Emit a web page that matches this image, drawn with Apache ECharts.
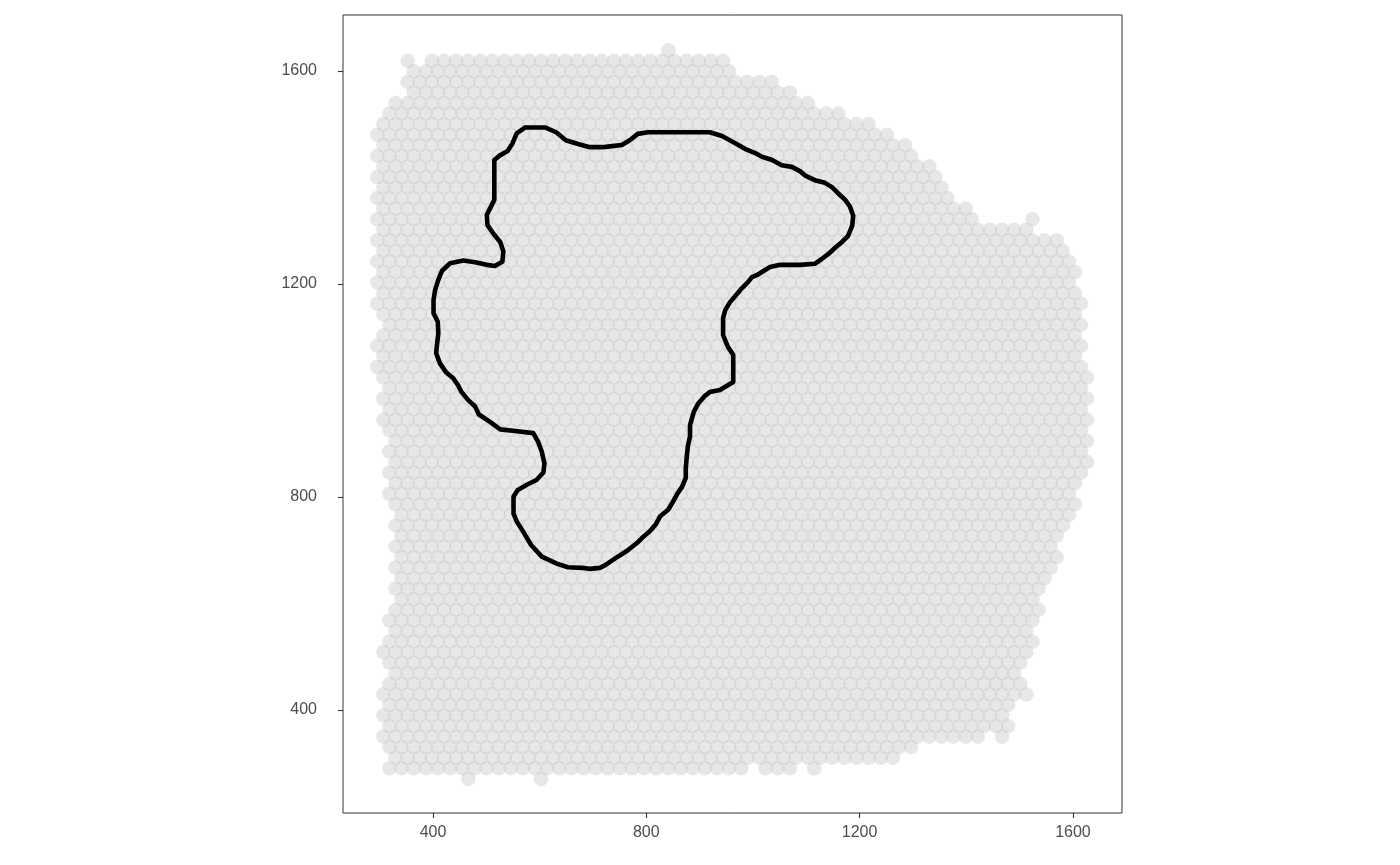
<!DOCTYPE html>
<html>
<head>
<meta charset="utf-8">
<title>spots with outline</title>
<script src="https://cdn.jsdelivr.net/npm/echarts@6.0.0/dist/echarts.min.js"></script>
<style>
    html, body { margin: 0; padding: 0; background: #fff; }
    #spot_chart { width: 1400px; height: 865px; }
</style>
</head>
<body>
<div id="spot_chart"></div>
<script>
// spots in tissue: for each array row (top to bottom) the runs of array columns present
var spotRuns = [
    [[48, 48]],
    [[5, 5], [9, 57]],
    [[6, 58]],
    [[5, 65]],
    [[6, 68]],
    [[3, 71]],
    [[2, 76]],
    [[1, 81]],
    [[0, 84]],
    [[1, 87]],
    [[0, 88]],
    [[1, 91]],
    [[0, 92]],
    [[1, 93]],
    [[0, 94]],
    [[1, 97]],
    [[0, 98], [108, 108]],
    [[1, 107]],
    [[0, 112]],
    [[1, 113]],
    [[0, 114]],
    [[1, 115]],
    [[0, 114]],
    [[1, 115]],
    [[0, 116]],
    [[1, 115]],
    [[2, 116]],
    [[1, 115]],
    [[0, 116]],
    [[1, 115]],
    [[0, 116]],
    [[1, 117]],
    [[2, 116]],
    [[1, 117]],
    [[2, 116]],
    [[1, 117]],
    [[2, 116]],
    [[3, 117]],
    [[2, 116]],
    [[3, 117]],
    [[2, 116]],
    [[3, 115]],
    [[2, 114]],
    [[3, 115]],
    [[4, 114]],
    [[3, 113]],
    [[4, 112]],
    [[3, 111]],
    [[4, 112]],
    [[3, 111]],
    [[4, 110]],
    [[3, 109]],
    [[4, 108]],
    [[3, 109]],
    [[2, 108]],
    [[3, 107]],
    [[2, 108]],
    [[1, 107]],
    [[2, 106]],
    [[3, 105]],
    [[2, 106]],
    [[1, 107]],
    [[2, 104]],
    [[1, 103]],
    [[2, 104]],
    [[1, 99], [103, 103]],
    [[2, 88]],
    [[3, 85]],
    [[2, 60], [64, 68], [72, 72]],
    [[15, 15], [27, 27]]
];

// array grid -> image coordinates
var spotX0 = 295.6, spotDx = 11.374;
var spotY0 = 1639.0, spotDy = 19.83;

// outline of the selected region, image coordinates
var outlineX = [573, 610, 631, 649, 672, 694, 717, 736, 754, 769, 784, 803, 919, 942, 966, 985, 1004, 1017, 1036, 1054,
    1073, 1088, 1099, 1116, 1135, 1148, 1159, 1173, 1182, 1188, 1186, 1178, 1167, 1154, 1141, 1129, 1116, 1088, 1051, 1032,
    1019, 1008, 998, 991, 979, 968, 957, 948, 944, 944, 953, 963, 963, 953, 938, 919, 910, 897, 889, 882,
    882, 878, 876, 874, 874, 867, 858, 850, 841, 826, 818, 807, 794, 783, 764, 745, 723, 713, 694, 679,
    653, 632, 604, 584, 569, 557, 551, 551, 559, 576, 594, 607, 609, 604, 597, 588, 554, 526, 507, 486,
    479, 466, 453, 447, 438, 424, 413, 406, 407, 410, 409, 401, 401, 404, 410, 417, 432, 457, 479, 501,
    516, 530, 532, 526, 513, 502, 501, 507, 515, 515, 526, 540, 549, 557, 573];
var outlineY = [1494, 1494, 1485, 1470, 1463, 1457, 1457, 1459, 1461, 1470, 1482, 1485, 1485, 1478, 1465, 1454, 1446, 1439, 1433, 1423,
    1420, 1412, 1403, 1395, 1390, 1382, 1371, 1358, 1345, 1328, 1309, 1290, 1279, 1268, 1256, 1247, 1238, 1236, 1236, 1232,
    1224, 1217, 1213, 1204, 1192, 1179, 1166, 1151, 1136, 1104, 1082, 1067, 1016, 1010, 1001, 997, 990, 975, 960, 935,
    914, 896, 877, 854, 836, 819, 806, 791, 776, 764, 749, 736, 725, 714, 699, 687, 672, 667, 665, 667,
    668, 675, 688, 710, 735, 754, 769, 801, 813, 823, 832, 846, 863, 885, 904, 920, 924, 927, 941, 955,
    970, 982, 998, 1010, 1023, 1035, 1051, 1070, 1082, 1107, 1129, 1145, 1170, 1189, 1208, 1225, 1239, 1244, 1241, 1236,
    1234, 1242, 1261, 1279, 1295, 1311, 1330, 1342, 1358, 1433, 1442, 1450, 1464, 1483, 1494];

var tickValues = [400, 800, 1200, 1600];

(function(){
    'use strict';
    var myChart = echarts.init(document.getElementById('spot_chart'), null, {renderer: 'canvas'});

    var spots = [];
    spotRuns.forEach(function(runs, row){
        runs.forEach(function(run){
            for (var col = run[0]; col <= run[1]; col += 2) {
                spots.push([spotX0 + col * spotDx, spotY0 - row * spotDy]);
            }
        });
    });

    var outline = [];
    for (var i = 0; i < outlineX.length; i++) {
        outline.push([outlineX[i], outlineY[i]]);
    }

    function plainNumber(value){
        return String(value);
    }

    var labelFont = {
        color: '#4d4d4d',
        fontSize: 16,
        fontFamily: 'Liberation Sans, Arial, sans-serif',
        formatter: plainNumber
    };
    var tickStyle = {show: true, length: 5, customValues: tickValues, lineStyle: {color: '#333333', width: 1.1}};

    var option = {
        animation: false,
        backgroundColor: '#ffffff',
        grid: {
            left: 343,
            top: 15,
            width: 779,
            height: 798,
            show: true,
            borderColor: '#333333',
            borderWidth: 1,
            backgroundColor: 'transparent'
        },
        xAxis: {
            type: 'value',
            min: 231.25,
            max: 1692,
            splitLine: {show: false},
            axisLine: {show: false},
            axisTick: tickStyle,
            axisLabel: Object.assign({margin: 12, customValues: tickValues}, labelFont)
        },
        yAxis: {
            type: 'value',
            min: 206.6,
            max: 1705.2,
            splitLine: {show: false},
            axisLine: {show: false},
            axisTick: tickStyle,
            axisLabel: Object.assign({margin: 26, customValues: tickValues}, labelFont)
        },
        series: [
            {
                name: 'spots',
                type: 'scatter',
                silent: true,
                progressive: 0,
                symbol: 'circle',
                symbolSize: 14.6,
                itemStyle: {color: '#bfbfbf', opacity: 0.38},
                data: spots,
                z: 1
            },
            {
                name: 'outline',
                type: 'line',
                silent: true,
                showSymbol: false,
                smooth: false,
                lineStyle: {color: '#000000', width: 4.6, join: 'round', cap: 'round'},
                data: outline,
                z: 2
            }
        ]
    };
    myChart.setOption(option, true);
})();
</script>
</body>
</html>
